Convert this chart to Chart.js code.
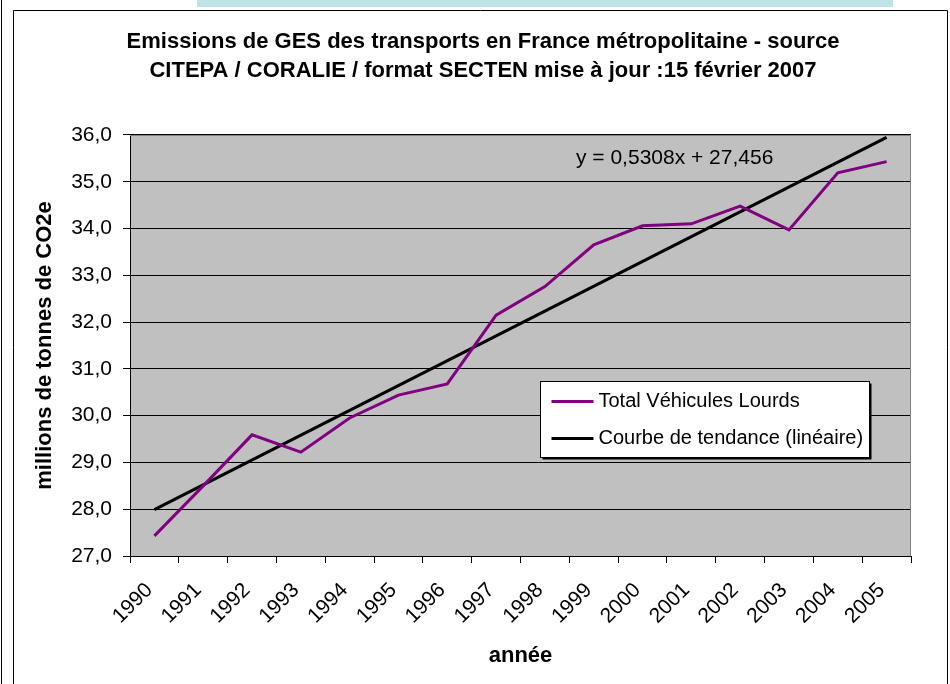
<!DOCTYPE html>
<html>
<head>
<meta charset="utf-8">
<script src="https://cdn.jsdelivr.net/npm/chart.js@4/dist/chart.umd.min.js"></script>
<style>
  body { margin: 0; background: #fff; }
</style>
</head>
<body>
<canvas id="graphe" width="950" height="684"></canvas>
<script>
// données
const annees = ["1990", "1991", "1992", "1993", "1994", "1995", "1996", "1997",
  "1998", "1999", "2000", "2001", "2002", "2003", "2004", "2005"];
const vehiculesLourds = [27.43, 28.50, 29.59, 29.22, 29.95, 30.44, 30.68, 32.15,
  32.76, 33.65, 34.06, 34.10, 34.48, 33.97, 35.19, 35.43];
// tendance linéaire : seulement les deux extrémités, la ligne les relie
const tendance = [27.99, null, null, null, null, null, null, null,
  null, null, null, null, null, null, null, 35.95];
const equation = "y = 0,5308x + 27,456";
const titre = [
  "Emissions de GES des transports en France métropolitaine - source",
  "CITEPA / CORALIE / format SECTEN mise à jour :15 février 2007",
];

const police = "'Liberation Sans', Arial, sans-serif";
Chart.defaults.font.family = police;
Chart.defaults.color = "#000";

// fond, cadre et zone de traçage grise
const fond = {
  id: "fond",
  beforeDraw(chart) {
    const { ctx, chartArea: a } = chart;
    ctx.save();
    ctx.fillStyle = "#fff";
    ctx.fillRect(0, 0, chart.width, chart.height);
    ctx.fillStyle = "#bde3e6";
    ctx.fillRect(197, 0, 696, 7);
    ctx.strokeStyle = "#000";
    ctx.lineWidth = 1;
    ctx.beginPath();
    ctx.moveTo(1.5, 0);
    ctx.lineTo(1.5, chart.height);
    ctx.moveTo(13.5, chart.height);
    ctx.lineTo(13.5, 10.5);
    ctx.lineTo(947.5, 10.5);
    ctx.lineTo(947.5, chart.height);
    ctx.stroke();
    ctx.fillStyle = "#c0c0c0";
    ctx.fillRect(a.left, a.top, a.right - a.left, a.bottom - a.top);
    ctx.restore();
  },
  beforeDatasetsDraw(chart) {
    const { ctx, chartArea: a } = chart;
    ctx.save();
    ctx.strokeStyle = "#808080";
    ctx.lineWidth = 1;
    ctx.beginPath();
    ctx.moveTo(a.left, a.top + 0.5);
    ctx.lineTo(a.right - 0.5, a.top + 0.5);
    ctx.lineTo(a.right - 0.5, a.bottom);
    ctx.stroke();
    ctx.restore();
  },
};

// légende encadrée et équation de la tendance
const legendeEtEquation = {
  id: "legendeEtEquation",
  afterDraw(chart) {
    const { ctx, chartArea: a } = chart;
    ctx.save();
    ctx.font = "21px " + police;
    ctx.fillStyle = "#000";
    ctx.textBaseline = "middle";
    ctx.fillText(equation, a.left + 446, a.top + 23);

    const bx = 540.5, by = 381.5, bw = 329, bh = 76;
    ctx.fillStyle = "#000";
    ctx.fillRect(bx + 2, by + 2, bw, bh);
    ctx.fillStyle = "#fff";
    ctx.fillRect(bx, by, bw, bh);
    ctx.strokeStyle = "#000";
    ctx.lineWidth = 1;
    ctx.strokeRect(bx, by, bw, bh);

    ctx.font = "20px " + police;
    chart.data.datasets.forEach((ds, i) => {
      const y = by + 20 + i * 37;
      ctx.strokeStyle = ds.borderColor;
      ctx.lineWidth = 3;
      ctx.beginPath();
      ctx.moveTo(bx + 11, y);
      ctx.lineTo(bx + 53, y);
      ctx.stroke();
      ctx.fillStyle = "#000";
      ctx.fillText(ds.label, bx + 58, y);
    });
    ctx.restore();
  },
};

new Chart(document.getElementById("graphe"), {
  type: "line",
  data: {
    labels: annees,
    datasets: [
      {
        label: "Total Véhicules Lourds",
        data: vehiculesLourds,
        borderColor: "#800080",
        borderWidth: 3,
        pointRadius: 0,
        tension: 0,
      },
      {
        label: "Courbe de tendance (linéaire)",
        data: tendance,
        borderColor: "#000",
        borderWidth: 3,
        pointRadius: 0,
        spanGaps: true,
      },
    ],
  },
  options: {
    responsive: false,
    animation: false,
    layout: { padding: { left: 30, right: 14, top: 0, bottom: 0 } },
    plugins: {
      legend: { display: false },
      tooltip: { enabled: false },
      title: {
        display: true,
        text: titre,
        color: "#000",
        font: { size: 22, weight: "bold", lineHeight: 1.32 },
        padding: { top: 27.5, bottom: 49.4 },
      },
    },
    scales: {
      x: {
        type: "category",
        offset: true,
        grid: {
          display: true,
          drawOnChartArea: false,
          drawTicks: true,
          tickLength: 7,
          color: "#000",
          offset: true,
        },
        border: { display: true, color: "#000", width: 1 },
        ticks: {
          autoSkip: false,
          minRotation: 45,
          maxRotation: 45,
          padding: 15,
          labelOffset: -5,
          font: { size: 21 },
          color: "#000",
        },
        title: {
          display: true,
          text: "année",
          font: { size: 22, weight: "bold" },
          color: "#000",
          padding: { top: 0, bottom: 15 },
        },
        afterFit(scale) { scale.height = 128; },
      },
      y: {
        min: 27,
        max: 36,
        grid: { color: "#000", lineWidth: 1, tickLength: 7, drawTicks: true },
        border: { display: true, color: "#000", width: 1 },
        ticks: {
          stepSize: 1,
          padding: 11,
          font: { size: 21 },
          color: "#000",
          callback: (v) => v.toFixed(1).replace(".", ","),
        },
        title: {
          display: true,
          text: "millions de tonnes de CO2e",
          font: { size: 22, weight: "bold" },
          color: "#000",
          padding: { top: 2, bottom: 0 },
        },
        afterFit(scale) { scale.width = 100; },
      },
      droite: {
        position: "right",
        display: true,
        grid: { display: false },
        border: { display: false },
        ticks: { display: false },
        afterFit(scale) { scale.width = 25; },
      },
    },
  },
  plugins: [fond, legendeEtEquation],
});
</script>
</body>
</html>
